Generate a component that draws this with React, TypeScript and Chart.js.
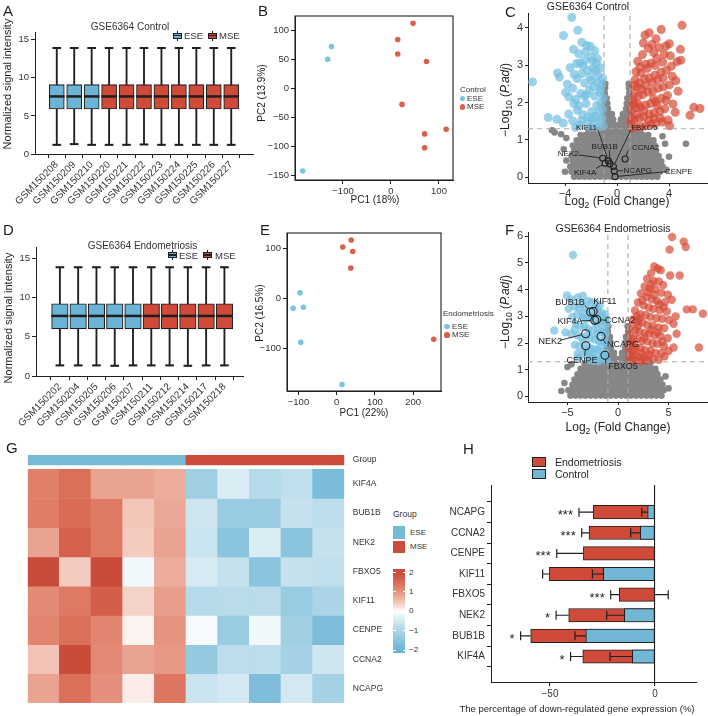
import React, { useEffect, useRef } from 'react';
import { Chart, registerables } from 'chart.js';

Chart.register(...registerables);

const FONT = '"Liberation Sans", Arial, Helvetica, sans-serif';
Chart.defaults.font.family = FONT;
Chart.defaults.color = '#333333';

const INK = '#1f1f1f';
const TICK_TEXT = '#333333';
const ESE_FILL = '#6cb4d5';
const MSE_FILL = '#cf4a39';
const ESE_DOT = '#7cc4e0';
const MSE_DOT = '#da604c';
const VOLCANO_BLUE = 'rgba(118,192,225,0.72)';
const VOLCANO_RED = 'rgba(214,74,54,0.7)';
const VOLCANO_GRAY = '#868686';
const THRESH = '#a8a8a8';
const GROUP_ESE = '#76bbd6';
const GROUP_MSE = '#cc4c3b';
const BAR_RED = '#d04a3a';
const BAR_BLUE = '#72b8d6';

// ---------- A: normalised intensities, GSE6364 control ----------
const controlSamples = ['GSM150208', 'GSM150209', 'GSM150210', 'GSM150220', 'GSM150221', 'GSM150222', 'GSM150223', 'GSM150224', 'GSM150225', 'GSM150226', 'GSM150227'];
const controlPhase = ['ESE', 'ESE', 'ESE', 'MSE', 'MSE', 'MSE', 'MSE', 'MSE', 'MSE', 'MSE', 'MSE'];
const controlMin = [1.2, 1.3, 1.2, 1.2, 1.2, 1.25, 1.2, 1.2, 1.2, 1.2, 1.2];
const controlQ1 = [5.9, 5.9, 5.9, 5.9, 5.9, 5.9, 5.9, 5.9, 5.9, 5.9, 5.9];
const controlMedian = [7.55, 7.55, 7.55, 7.55, 7.55, 7.55, 7.55, 7.55, 7.55, 7.55, 7.55];
const controlQ3 = [9.1, 9.1, 9.1, 9.1, 9.1, 9.1, 9.1, 9.1, 9.1, 9.1, 9.1];
const controlMax = [13.9, 13.9, 13.9, 13.9, 13.9, 13.9, 13.9, 13.9, 13.9, 13.9, 13.9];

// ---------- D: normalised intensities, GSE6364 endometriosis ----------
const endoSamples = ['GSM150202', 'GSM150204', 'GSM150205', 'GSM150206', 'GSM150207', 'GSM150211', 'GSM150212', 'GSM150214', 'GSM150217', 'GSM150218'];
const endoPhase = ['ESE', 'ESE', 'ESE', 'ESE', 'ESE', 'MSE', 'MSE', 'MSE', 'MSE', 'MSE'];
const endoMin = [1.35, 1.35, 1.35, 1.3, 1.35, 1.35, 1.35, 1.3, 1.35, 1.35];
const endoQ1 = [6.0, 6.0, 6.0, 6.0, 6.0, 6.0, 6.0, 6.0, 6.0, 6.0];
const endoMedian = [7.65, 7.65, 7.65, 7.65, 7.65, 7.65, 7.65, 7.65, 7.65, 7.65];
const endoQ3 = [9.2, 9.2, 9.2, 9.2, 9.2, 9.2, 9.2, 9.2, 9.2, 9.2];
const endoMax = [13.85, 13.85, 13.85, 13.85, 13.85, 13.85, 13.85, 13.85, 13.85, 13.85];

// ---------- B / E: principal components ----------
const pcaCtrlEsePC1 = [-124, -132, -184];
const pcaCtrlEsePC2 = [72, 50, -143];
const pcaCtrlMsePC1 = [46, 14, 14, 74, 23, 115, 70, 70];
const pcaCtrlMsePC2 = [112, 84, 59, 46, -28, -71, -79, -103];
const pcaEndoEsePC1 = [-96, -114, -87, -94, 14];
const pcaEndoEsePC2 = [12, -19, -17, -87, -171];
const pcaEndoMsePC1 = [16, 38, 42, 37, 254];
const pcaEndoMsePC2 = [103, 117, 94, 61, -81];

// ---------- C / F: volcano plots (log2 fold change, -log10 adjusted p) ----------
const FC_CUT = 1;
const PADJ_CUT = 1.3;

const cGrayRows: [number, number[]][] = [
  [0.02, [-3.3, -2.9, -2.5, -2.1, -1.7, -1.3, -0.9, -0.5, -0.1, 0.3, 0.7, 1.1, 1.5, 1.9, 2.3, 2.7, 3.1]],
  [0.15, [-3.5, -3.1, -2.7, -2.3, -1.9, -1.5, -1.1, -0.7, -0.3, 0.1, 0.5, 0.9, 1.3, 1.7, 2.1, 2.5, 2.9, 3.3]],
  [0.29, [-3.6, -3.2, -2.8, -2.4, -2.0, -1.6, -1.2, -0.8, -0.4, 0, 0.4, 0.8, 1.2, 1.6, 2.0, 2.4, 2.8, 3.2, 3.5]],
  [0.43, [-3.4, -3.0, -2.6, -2.2, -1.8, -1.4, -1.0, -0.6, -0.2, 0.2, 0.6, 1.0, 1.4, 1.8, 2.2, 2.6, 3.0, 3.4]],
  [0.57, [-3.5, -3.1, -2.7, -2.3, -1.9, -1.5, -1.1, -0.7, -0.3, 0.1, 0.5, 0.9, 1.3, 1.7, 2.1, 2.5, 2.9, 3.2]],
  [0.71, [-3.3, -2.9, -2.5, -2.1, -1.7, -1.3, -0.9, -0.5, -0.1, 0.3, 0.7, 1.1, 1.5, 1.9, 2.3, 2.7, 3.0]],
  [0.85, [-3.4, -3.0, -2.6, -2.2, -1.8, -1.4, -1.0, -0.6, -0.2, 0.2, 0.6, 1.0, 1.4, 1.8, 2.2, 2.6, 2.9]],
  [0.99, [-3.1, -2.7, -2.3, -1.9, -1.5, -1.1, -0.7, -0.3, 0.1, 0.5, 0.9, 1.3, 1.7, 2.1, 2.5, 2.8]],
  [1.13, [-2.8, -2.4, -2.0, -1.6, -1.2, -0.8, -0.4, 0, 0.4, 0.8, 1.2, 1.6, 2.0, 2.4]],
  [1.27, [-2.2, -1.8, -1.4, -1.0, -0.6, -0.2, 0.2, 0.6, 1.0, 1.4, 1.8]],
  [1.41, [-0.95, -0.6, -0.25, 0.15, 0.5, 0.9]],
  [1.55, [-0.95, -0.65, -0.3, 0.3, 0.65, 0.95]],
  [1.69, [-0.95, -0.7, -0.4, 0.45, 0.7, 0.95]],
  [1.83, [-0.95, -0.7, 0.7, 0.95]],
  [1.97, [-0.95, -0.75, 0.75, 0.95]],
  [2.11, [-0.95, -0.8, 0.8, 0.95]],
  [2.25, [-0.95, 0.95]],
  [2.39, [-0.92, 0.92]],
  [2.5, [-0.9, 0.9]],
];
const cGrayLoose = [[-4.8, 1.2], [-5.0, 1.26], [-4.3, 1.15], [-3.9, 1.05], [-4.1, 0.75], [-3.9, 0.45], [3.7, 0.9], [5.3, 0.9], [4.0, 0.55], [3.8, 0.2], [-4.0, 0.15], [3.5, 1.1]];
const cDown = [
  [-3.48, 4.27], [-4.12, 3.79], [-3.02, 3.93], [-2.71, 3.61], [-2.33, 3.52], [-1.71, 3.38], [-2.95, 3.3], [-3.35, 3.42], [-2.02, 3.21], [-2.5, 3.12],
  [-1.58, 3.05], [-1.84, 2.91], [-3.12, 3.04], [-3.61, 2.93], [-2.28, 2.86], [-2.71, 2.77], [-1.43, 2.72], [-1.17, 2.49], [-1.96, 2.59], [-2.49, 2.52],
  [-3.07, 2.64], [-3.41, 2.38], [-4.58, 2.79], [-4.43, 2.68], [-6.5, 2.55], [-1.33, 2.28], [-1.72, 2.17], [-2.14, 2.33], [-2.79, 2.24], [-3.17, 2.08],
  [-3.71, 2.15], [-2.38, 1.97], [-1.56, 1.92], [-1.12, 1.81], [-1.94, 1.76], [-2.63, 1.68], [-3.05, 1.79], [-3.72, 1.69], [-3.42, 1.51], [-2.27, 1.47],
  [-1.73, 1.44], [-1.31, 1.52], [-1.06, 1.37], [-1.48, 1.33], [-2.02, 1.35], [-2.86, 1.39], [-4.13, 1.45], [-4.62, 1.55], [-5.3, 1.6], [-1.24, 1.99],
  [-1.05, 2.12], [-1.11, 2.64], [-1.27, 2.93], [-1.51, 3.17], [-3.95, 2.27], [-3.83, 2.49], [-2.09, 2.69], [-2.61, 2.98], [-1.88, 3.11], [-2.22, 1.61],
  [-1.67, 1.63], [-1.38, 1.75], [-2.51, 2.17], [-2.94, 1.91], [-3.33, 1.97], [-1.83, 2.42], [-2.35, 2.21], [-1.51, 2.53], [-1.27, 2.35], [-2.74, 1.52],
  [-3.2, 1.33], [-1.92, 1.57], [-1.15, 1.58], [-2.42, 3.35], [-3.3, 2.75], [-2.05, 3.5], [-2.85, 3.05], [-1.65, 2.85],
];
const cUp = [
  [5.0, 4.06], [2.15, 3.8], [2.48, 3.86], [4.02, 3.57], [4.88, 3.42], [3.77, 3.51], [3.24, 3.47], [2.83, 3.33], [1.96, 3.28], [4.91, 3.13],
  [3.52, 3.08], [3.06, 3.18], [2.62, 3.05], [2.21, 3.02], [1.77, 2.94], [1.46, 2.82], [4.18, 2.97], [3.81, 2.86], [3.37, 2.81], [2.91, 2.73],
  [2.47, 2.66], [2.12, 2.63], [1.71, 2.52], [1.28, 2.46], [4.52, 2.58], [4.03, 2.47], [3.57, 2.42], [3.16, 2.38], [2.74, 2.31], [2.38, 2.28],
  [1.98, 2.21], [1.62, 2.17], [1.24, 2.08], [3.88, 2.19], [3.42, 2.11], [2.97, 2.02], [2.57, 1.97], [2.19, 1.93], [1.81, 1.88], [1.43, 1.86],
  [1.09, 1.79], [4.31, 1.96], [3.68, 1.83], [3.31, 1.77], [2.86, 1.72], [2.47, 1.69], [2.06, 1.62], [1.72, 1.58], [1.33, 1.54], [1.05, 1.49],
  [5.62, 1.66], [6.38, 1.84], [5.91, 1.87], [3.93, 1.53], [3.48, 1.48], [2.98, 1.44], [2.61, 1.41], [2.18, 1.37], [1.83, 1.35], [1.41, 1.34],
  [1.11, 1.32], [4.04, 1.38], [2.33, 2.91], [1.86, 2.79], [1.19, 2.01], [3.63, 3.29], [4.62, 3.09], [2.69, 2.53], [3.12, 2.61], [1.52, 1.68],
  [3.34, 1.58], [2.03, 3.59], [2.93, 2.99], [1.39, 2.61], [4.48, 1.74], [1.6, 3.1], [2.4, 3.45], [3.0, 3.7], [3.4, 3.95], [2.8, 2.1],
  [2.2, 2.45], [1.9, 2.35], [1.35, 2.25], [1.15, 1.58], [1.65, 1.95], [2.05, 1.78], [2.45, 1.52], [3.1, 1.92], [3.55, 2.65], [4.25, 2.7],
  [4.1, 3.25], [2.7, 3.55], [1.55, 2.42], [1.3, 1.95], [2.85, 1.57], [3.75, 2.05], [4.7, 2.3],
];
const cHighlightGenes = ['KIF11', 'FBXO5', 'BUB1B', 'CCNA2', 'NEK2', 'KIF4A', 'NCAPG', 'CENPE'];
const cHighlightFC = [-0.67, -0.28, -0.54, 0.62, -1.1, -0.92, -0.21, -0.15];
const cHighlightPadj = [0.44, 0.29, 0.36, 0.49, 0.51, 0.38, 0.17, 0.02];
// label anchor and leader-line start for each highlighted gene
const cNoteText = [[-2.35, 1.33], [2.1, 1.33], [-0.95, 0.83], [2.2, 0.8], [-3.75, 0.64], [-2.45, 0.13], [1.6, 0.18], [4.75, 0.15]];
const cNoteElbow = [[-1.45, 1.26], [1.05, 1.26], [-0.6, 0.72], [0.85, 0.72], [-2.95, 0.6], [-1.6, 0.24], [0.45, 0.18], [3.7, 0.15]];

const fGrayRows: [number, number[]][] = [
  [0.03, [-4.7, -4.2, -3.7, -3.2, -2.7, -2.2, -1.7, -1.2, -0.7, -0.2, 0.3, 0.8, 1.3, 1.8, 2.3, 2.8, 3.3, 3.8, 4.3]],
  [0.23, [-4.9, -4.4, -3.9, -3.4, -2.9, -2.4, -1.9, -1.4, -0.9, -0.4, 0.1, 0.6, 1.1, 1.6, 2.1, 2.6, 3.1, 3.6, 4.1, 4.5]],
  [0.43, [-4.5, -4.0, -3.5, -3.0, -2.5, -2.0, -1.5, -1.0, -0.5, 0, 0.5, 1.0, 1.5, 2.0, 2.5, 3.0, 3.5, 4.0, 4.4]],
  [0.63, [-4.3, -3.8, -3.3, -2.8, -2.3, -1.8, -1.3, -0.8, -0.3, 0.2, 0.7, 1.2, 1.7, 2.2, 2.7, 3.2, 3.7, 4.2]],
  [0.83, [-4.0, -3.5, -3.0, -2.5, -2.0, -1.5, -1.0, -0.5, 0, 0.5, 1.0, 1.5, 2.0, 2.5, 3.0, 3.5, 3.9]],
  [1.03, [-3.7, -3.2, -2.7, -2.2, -1.7, -1.2, -0.7, -0.2, 0.3, 0.8, 1.3, 1.8, 2.3, 2.8, 3.3, 3.7]],
  [1.23, [-3.3, -2.8, -2.3, -1.8, -1.3, -0.8, -0.3, 0.3, 0.8, 1.3, 1.8, 2.3, 2.8, 3.2]],
  [1.43, [-1.1, -0.7, -0.3, 0.3, 0.7, 1.1]],
  [1.63, [-1.1, -0.75, -0.4, 0.4, 0.75, 1.1]],
  [1.83, [-1.1, -0.7, 0.7, 1.1]],
  [2.03, [-1.05, -0.75, 0.75, 1.05]],
  [2.23, [-1.0, -0.8, 0.8, 1.0]],
  [2.43, [-1.0, 1.0]],
  [2.63, [-0.95, 0.95]],
];
const fGrayLoose = [[3.8, 0.85], [-5.3, 0.5], [5.0, 0.3], [-5.0, 1.1], [-5.6, 0.2], [4.7, 0.75], [-4.6, 1.2]];
const fDown = [
  [-4.45, 5.3], [-5.05, 3.78], [-4.62, 3.63], [-3.97, 3.71], [-3.48, 3.77], [-2.96, 3.58], [-2.63, 3.52], [-2.17, 3.49], [-1.82, 3.41], [-4.27, 3.38],
  [-3.83, 3.31], [-3.26, 3.34], [-2.88, 3.22], [-1.98, 3.24], [-1.61, 3.12], [-1.27, 3.07], [-4.52, 2.98], [-4.03, 3.07], [-3.46, 2.97], [-3.08, 2.92],
  [-2.71, 2.93], [-1.83, 2.82], [-1.39, 2.83], [-1.13, 2.68], [-4.18, 2.72], [-3.72, 2.61], [-3.31, 2.64], [-2.92, 2.52], [-2.47, 2.47], [-1.97, 2.53],
  [-1.58, 2.42], [-1.21, 2.38], [-6.3, 2.47], [-5.2, 2.4], [-4.63, 2.33], [-3.97, 2.28], [-3.58, 2.21], [-2.73, 2.18], [-2.28, 2.13], [-1.87, 2.07],
  [-1.42, 2.03], [-1.12, 1.98], [-4.27, 1.93], [-3.81, 1.87], [-2.83, 1.82], [-2.37, 1.78], [-2.02, 1.73], [-1.63, 1.68], [-1.18, 1.63], [-3.47, 1.58],
  [-3.02, 1.52], [-2.58, 1.48], [-2.19, 1.43], [-1.82, 1.41], [-1.38, 1.39], [-1.08, 1.34], [-3.92, 1.44], [-2.88, 1.35], [-2.42, 1.33], [-1.93, 1.32],
  [-3.38, 2.02], [-2.22, 2.74], [-3.62, 3.48], [-4.88, 3.28], [-1.52, 2.61], [-2.47, 3.02], [-1.3, 2.25], [-1.7, 1.9], [-2.5, 1.65], [-3.2, 1.75],
  [-2.1, 2.35], [-3.0, 2.3], [-1.45, 1.55], [-2.8, 1.6], [-4.0, 1.6], [-2.3, 3.3], [-1.7, 3.0], [-3.5, 3.1], [-1.15, 2.9], [-4.3, 2.5],
];
const fUp = [
  [5.35, 5.97], [6.5, 5.8], [6.7, 5.6], [5.1, 5.5], [3.58, 4.87], [3.93, 4.79], [4.22, 4.73], [3.27, 4.62], [5.15, 4.53], [6.1, 4.53],
  [2.87, 4.41], [3.52, 4.33], [4.04, 4.31], [4.47, 4.17], [2.63, 4.12], [3.14, 4.04], [3.72, 4.02], [4.28, 3.88], [4.93, 3.81], [2.27, 3.86],
  [2.81, 3.72], [3.34, 3.63], [3.87, 3.58], [4.64, 3.53], [5.32, 3.62], [1.97, 3.52], [2.53, 3.41], [3.04, 3.33], [3.48, 3.28], [4.12, 3.23],
  [4.83, 3.18], [6.8, 3.26], [7.4, 3.26], [8.4, 3.1], [1.68, 3.22], [2.22, 3.08], [2.73, 3.04], [3.21, 2.98], [3.82, 2.93], [4.38, 2.91],
  [5.03, 2.86], [1.47, 2.88], [1.92, 2.79], [2.41, 2.77], [2.88, 2.68], [3.43, 2.66], [4.02, 2.58], [4.58, 2.56], [5.5, 2.72], [1.28, 2.61],
  [1.73, 2.48], [2.07, 2.43], [2.63, 2.38], [3.08, 2.36], [3.61, 2.28], [4.19, 2.27], [4.92, 2.18], [5.8, 2.35], [1.18, 2.31], [1.52, 2.18],
  [1.93, 2.16], [2.38, 2.08], [2.91, 2.06], [3.42, 1.98], [3.88, 1.97], [4.53, 1.88], [5.5, 1.83], [8.0, 1.83], [1.11, 1.98], [1.42, 1.91],
  [1.78, 1.84], [2.24, 1.81], [2.68, 1.73], [3.23, 1.72], [3.71, 1.63], [4.28, 1.62], [1.04, 1.71], [1.32, 1.58], [1.68, 1.56], [2.12, 1.48],
  [2.53, 1.46], [2.97, 1.41], [3.52, 1.39], [4.03, 1.37], [1.12, 1.41], [1.48, 1.35], [1.88, 1.34], [2.31, 1.32], [2.78, 1.33], [4.6, 1.5],
  [5.0, 1.7], [3.0, 3.9], [3.6, 3.8], [2.1, 2.9], [4.5, 3.35], [5.7, 3.0], [2.4, 3.6], [1.85, 3.0], [2.6, 2.2], [3.3, 2.5],
  [1.35, 2.05], [1.6, 1.7], [2.0, 2.65], [3.9, 2.4], [4.4, 2.05], [3.1, 1.55], [2.35, 1.62], [1.25, 1.5], [4.05, 3.45], [3.3, 4.2],
];
const fHighlightGenes = ['BUB1B', 'KIF11', 'KIF4A', 'CCNA2', 'NEK2', 'NCAPG', 'CENPE', 'FBXO5'];
const fHighlightFC = [-2.7, -2.45, -2.3, -2.1, -3.2, -1.68, -3.18, -1.29];
const fHighlightPadj = [3.16, 3.18, 2.85, 2.88, 2.35, 2.25, 1.9, 1.54];
const fNoteText = [[-4.75, 3.51], [-1.29, 3.57], [-4.75, 2.82], [0.2, 2.85], [-6.7, 2.06], [0.5, 1.94], [-3.56, 1.35], [0.5, 1.12]];
const fNoteElbow = [[-3.27, 3.41], [-2.05, 3.45], [-3.7, 2.83], [-1.12, 2.85], [-5.74, 2.1], [-1.19, 1.97], [-3.3, 1.52], [-1.19, 1.22]];

// ---------- G: z-scored expression heatmap ----------
const heatSamples = ['GSM150202', 'GSM150204', 'GSM150205', 'GSM150206', 'GSM150207', 'GSM150211', 'GSM150212', 'GSM150214', 'GSM150217', 'GSM150218'];
const heatPhase = ['ESE', 'ESE', 'ESE', 'ESE', 'ESE', 'MSE', 'MSE', 'MSE', 'MSE', 'MSE'];
const heatGenes = ['KIF4A', 'BUB1B', 'NEK2', 'FBXO5', 'KIF11', 'CENPE', 'CCNA2', 'NCAPG'];
const zKIF4A = [1.2, 1.45, 0.85, 0.85, 0.75, -1.2, -0.4, -0.9, -0.75, -1.75];
const zBUB1B = [1.25, 1.5, 1.3, 0.45, 0.8, -0.55, -1.3, -1.3, -0.7, -0.8];
const zNEK2 = [0.85, 1.65, 1.3, 0.4, 0.85, -0.6, -1.5, -0.4, -1.5, -0.7];
const zFBXO5 = [2.0, 0.4, 2.0, -0.15, 0.75, -0.45, -0.7, -1.5, -0.7, -0.75];
const zKIF11 = [1.1, 1.3, 1.7, 0.35, 0.9, -0.9, -0.85, -0.85, -1.3, -1.05];
const zCENPE = [1.15, 1.45, 1.15, 0.1, 1.0, -0.1, -1.3, -0.15, -1.2, -1.7];
const zCCNA2 = [0.5, 2.0, 1.1, 0.85, 0.95, -1.35, -0.8, -0.8, -1.15, -0.55];
const zNCAPG = [0.85, 1.45, 1.05, 0.15, 1.35, -0.6, -0.5, -1.7, -0.5, -1.15];
const heatRows = [zKIF4A, zBUB1B, zNEK2, zFBXO5, zKIF11, zCENPE, zCCNA2, zNCAPG];
const heatLegendTicks = [2, 1, 0, -1, -2];

// ---------- H: share of down-regulated expression ----------
const hGenes = ['NCAPG', 'CCNA2', 'CENPE', 'KIF11', 'FBXO5', 'NEK2', 'BUB1B', 'KIF4A'];
const hEndo = [-29.4, -31.4, -34.1, -50.3, -17.0, -41.1, -59.2, -34.4];
const hEndoErr = [6.8, 3.5, 12.7, 3.2, 4.1, 6.0, 4.8, 5.8];
const hCtrl = [-3.5, -7.0, 0, -24.6, 0, -14.6, -32.9, -10.8];
const hCtrlErr = [2.8, 4.6, 0, 5.2, 6.3, 8.4, 5.2, 10.6];
const hStars = ['***', '***', '***', '', '***', '*', '*', '*'];

// ---------- colour scale for z-scores ----------
const heatStops: [number, number[]][] = [
  [-2, [108, 180, 212]], [-1.6, [130, 192, 220]], [-1.2, [160, 207, 228]], [-0.8, [188, 221, 235]], [-0.4, [218, 236, 244]],
  [0, [255, 255, 255]],
  [0.4, [243, 203, 191]], [0.8, [235, 168, 150]], [1.2, [224, 128, 106]], [1.6, [214, 100, 80]], [2, [201, 75, 57]],
];
function heatColor(v: number) {
  const c = Math.max(-2, Math.min(2, v));
  for (let i = 1; i < heatStops.length; i++) {
    const [v1, c1] = heatStops[i];
    const [v0, c0] = heatStops[i - 1];
    if (c <= v1) {
      const t = (c - v0) / (v1 - v0);
      const ch = c0.map((a, k) => Math.round(a + (c1[k] - a) * t));
      return `rgb(${ch[0]},${ch[1]},${ch[2]})`;
    }
  }
  return 'rgb(201,75,57)';
}

const minus = (v: number) => (v < 0 ? '\u2212' + Math.abs(v) : String(v));

// ---------- chart helpers ----------
function baseOptions(pad: { l: number; r: number; t: number; b: number }, scales: any, extra: any = {}) {
  return {
    responsive: false,
    animation: false,
    events: [],
    layout: { autoPadding: false, padding: { left: pad.l, right: pad.r, top: pad.t, bottom: pad.b } },
    plugins: { legend: { display: false }, tooltip: { enabled: false } },
    scales,
    ...extra,
  };
}

function lin(o: any) {
  const horiz = o.pos === 'bottom' || o.pos === 'top';
  const line = o.line !== false;
  return {
    type: 'linear',
    position: o.pos,
    min: o.min,
    max: o.max,
    reverse: !!o.reverse,
    afterBuildTicks: (s: any) => {
      s.ticks = o.ticks.map((v: number) => ({ value: v }));
    },
    afterFit: (s: any) => {
      if (horiz) s.height = o.size;
      else s.width = o.size;
      // plot area is fixed by the layout padding alone
      s.paddingTop = 0;
      s.paddingBottom = 0;
      s.paddingLeft = 0;
      s.paddingRight = 0;
    },
    border: { display: line, color: INK, width: 1 },
    grid: {
      display: line,
      drawOnChartArea: false,
      drawTicks: true,
      tickLength: o.tickLen ?? 4,
      color: INK,
      lineWidth: 1,
      ...(o.grid || {}),
    },
    ticks: {
      autoSkip: false,
      color: TICK_TEXT,
      font: { size: o.font ?? 10 },
      padding: o.pad ?? 2,
      minRotation: o.rot ?? 0,
      maxRotation: o.rot ?? 0,
      callback: (v: number, i: number) => (o.labels ? o.labels[i] : minus(v)),
    },
  };
}

const framePlugin = {
  id: 'panelFrame',
  afterDraw(chart: any) {
    const { ctx, chartArea } = chart;
    ctx.save();
    ctx.strokeStyle = INK;
    ctx.lineWidth = 1.1;
    ctx.strokeRect(chartArea.left, chartArea.top, chartArea.right - chartArea.left, chartArea.bottom - chartArea.top);
    ctx.restore();
  },
};

function boxChart(samples: string[], phase: string[], mins: number[], q1: number[], med: number[], q3: number[], maxs: number[], g: any) {
  const fills = phase.map((p) => (p === 'ESE' ? ESE_FILL : MSE_FILL));
  const at = (f: (i: number) => number[]) => samples.map((_, i) => ({ x: i, y: f(i) }));
  const common = { grouped: false, borderSkipped: false };
  return {
    type: 'bar',
    data: {
      datasets: [
        { ...common, data: at((i) => [med[i] - 0.12, med[i] + 0.12]), backgroundColor: INK, barThickness: g.box },
        { ...common, data: at((i) => [q1[i], q3[i]]), backgroundColor: fills, borderColor: INK, borderWidth: 1.1, barThickness: g.box },
        { ...common, data: at((i) => [maxs[i] - 0.09, maxs[i] + 0.09]), backgroundColor: INK, barThickness: g.cap },
        { ...common, data: at((i) => [mins[i] - 0.09, mins[i] + 0.09]), backgroundColor: INK, barThickness: g.cap },
        { ...common, data: at((i) => [mins[i], maxs[i]]), backgroundColor: INK, barThickness: 1.2 },
      ],
    },
    options: baseOptions(g.pad, {
      x: lin({ pos: 'bottom', min: g.xmin, max: g.xmax, ticks: samples.map((_, i) => i), labels: samples, size: g.xh, font: 10, rot: 45, pad: 1 }),
      y: lin({ pos: 'left', min: 0, max: g.ymax, ticks: [0, 5, 10, 15], size: g.yw, font: 9.5, pad: 2 }),
    }),
  };
}

function pcaChart(o: any) {
  return {
    type: 'scatter',
    data: {
      datasets: [
        { data: o.eseX.map((x: number, i: number) => ({ x, y: o.eseY[i] })), pointRadius: 2.8, backgroundColor: ESE_DOT, borderWidth: 0 },
        { data: o.mseX.map((x: number, i: number) => ({ x, y: o.mseY[i] })), pointRadius: 2.8, backgroundColor: MSE_DOT, borderWidth: 0 },
      ],
    },
    options: baseOptions(o.pad, {
      x: lin({ pos: 'bottom', min: o.xmin, max: o.xmax, ticks: o.xticks, size: o.xh, font: 9.5, pad: 2 }),
      y: lin({ pos: 'left', min: o.ymin, max: o.ymax, ticks: o.yticks, size: o.yw, font: 9.5, pad: 2 }),
    }),
    plugins: [framePlugin],
  };
}

function notePlugin(genes: string[], fc: number[], padj: number[], text: number[][], elbow: number[][], ring: number, size: number) {
  return {
    id: 'geneNotes',
    afterDatasetsDraw(chart: any) {
      const { ctx } = chart;
      const xs = chart.scales.x;
      const ys = chart.scales.y;
      ctx.save();
      ctx.strokeStyle = INK;
      ctx.lineWidth = 0.9;
      genes.forEach((_, i) => {
        const cx = xs.getPixelForValue(fc[i]);
        const cy = ys.getPixelForValue(padj[i]);
        const lx = xs.getPixelForValue(elbow[i][0]);
        const ly = ys.getPixelForValue(elbow[i][1]);
        const d = Math.hypot(lx - cx, ly - cy) || 1;
        ctx.beginPath();
        ctx.moveTo(lx, ly);
        ctx.lineTo(cx + ((lx - cx) / d) * ring, cy + ((ly - cy) / d) * ring);
        ctx.stroke();
      });
      ctx.fillStyle = '#1a1a1a';
      ctx.font = `${size}px ${FONT}`;
      ctx.textAlign = 'center';
      ctx.textBaseline = 'middle';
      genes.forEach((g, i) => ctx.fillText(g, xs.getPixelForValue(text[i][0]), ys.getPixelForValue(text[i][1])));
      ctx.restore();
    },
  };
}

function volcanoChart(o: any) {
  const gray = o.grayRows
    .flatMap((r: any) => r[1].map((x: number) => ({ x, y: r[0] })))
    .concat(o.grayLoose.map((p: number[]) => ({ x: p[0], y: p[1] })));
  const pts = (a: number[][]) => a.map((p) => ({ x: p[0], y: p[1] }));
  const rule = (a: any[]) => ({ type: 'line', data: a, borderColor: THRESH, borderWidth: 1.1, borderDash: [5, 4], pointRadius: 0, fill: false, order: 1 });
  return {
    type: 'scatter',
    data: {
      datasets: [
        {
          data: o.fc.map((x: number, i: number) => ({ x, y: o.padj[i] })),
          pointRadius: o.ring,
          backgroundColor: 'rgba(0,0,0,0)',
          borderColor: INK,
          borderWidth: 1.1,
          order: 0,
        },
        rule([{ x: -FC_CUT, y: o.ymin }, { x: -FC_CUT, y: o.ymax }]),
        rule([{ x: FC_CUT, y: o.ymin }, { x: FC_CUT, y: o.ymax }]),
        rule([{ x: o.xmin, y: PADJ_CUT }, { x: o.xmax, y: PADJ_CUT }]),
        { data: pts(o.up), pointRadius: o.dot, backgroundColor: VOLCANO_RED, borderWidth: 0, order: 2 },
        { data: pts(o.down), pointRadius: o.dot, backgroundColor: VOLCANO_BLUE, borderWidth: 0, order: 2 },
        { data: gray, pointRadius: 3.3, backgroundColor: VOLCANO_GRAY, borderWidth: 0, order: 3 },
      ],
    },
    options: baseOptions(o.pad, {
      x: lin({ pos: 'bottom', min: o.xmin, max: o.xmax, ticks: o.xticks, size: o.xh, font: 11, pad: 1, tickLen: 3 }),
      y: lin({ pos: 'left', min: o.ymin, max: o.ymax, ticks: o.yticks, size: 58, font: 11, pad: 2, tickLen: 3 }),
    }),
    plugins: [notePlugin(o.genes, o.fc, o.padj, o.noteText, o.noteElbow, o.ring, o.noteSize)],
  };
}

function heatChart() {
  const cells = heatRows.map((vals, g) => ({
    data: vals.map(() => [7 - g, 8 - g]),
    backgroundColor: vals.map(heatColor),
  }));
  cells.push({
    data: heatPhase.map(() => [8.15, 8.49]),
    backgroundColor: heatPhase.map((p) => (p === 'ESE' ? GROUP_ESE : GROUP_MSE)),
  });
  const tickVals = heatGenes.map((_, g) => g + 0.5).concat([8.32]);
  const tickLabels = heatGenes.slice().reverse().concat(['Group']);
  return {
    type: 'bar',
    data: {
      labels: heatSamples,
      datasets: cells.map((d) => ({ ...d, grouped: false, barPercentage: 1, categoryPercentage: 1, borderWidth: 0 })),
    },
    options: baseOptions({ l: 27.7, r: 0, t: 5, b: 5 }, {
      x: { type: 'category', display: false, offset: true },
      y: lin({ pos: 'right', min: 0, max: 8.49, ticks: tickVals, labels: tickLabels, size: 47.7, font: 8.5, pad: 4.5, line: false }),
    }),
  };
}

const hErrorPlugin = {
  id: 'hErrors',
  afterDatasetsDraw(chart: any) {
    const { ctx } = chart;
    const x = chart.scales.x;
    const y = chart.scales.y;
    ctx.save();
    ctx.strokeStyle = INK;
    ctx.lineWidth = 1.2;
    const whisker = (v: number, e: number, i: number) => {
      if (!e) return;
      const end = v < 0 ? v - e : v + e;
      const p0 = x.getPixelForValue(v);
      const p1 = x.getPixelForValue(end);
      const py = y.getPixelForValue(i);
      ctx.beginPath();
      ctx.moveTo(p0, py);
      ctx.lineTo(p1, py);
      ctx.moveTo(p1, py - 4.5);
      ctx.lineTo(p1, py + 4.5);
      ctx.stroke();
    };
    hEndo.forEach((v, i) => whisker(v, hEndoErr[i], i));
    hCtrl.forEach((v, i) => whisker(v, hCtrlErr[i], i));
    ctx.fillStyle = INK;
    ctx.font = `13px ${FONT}`;
    ctx.textAlign = 'right';
    ctx.textBaseline = 'middle';
    hStars.forEach((s, i) => {
      if (!s) return;
      ctx.fillText(s, x.getPixelForValue(hEndo[i] - hEndoErr[i]) - 6, y.getPixelForValue(i) + 3.5);
    });
    ctx.restore();
  },
};

function hChart() {
  const bar = { grouped: false, borderColor: INK, borderWidth: 1, borderSkipped: false, barThickness: 13.5 };
  return {
    type: 'bar',
    data: {
      datasets: [
        { ...bar, data: hCtrl.map((v, i) => ({ x: v, y: i })), backgroundColor: BAR_BLUE },
        { ...bar, data: hEndo.map((v, i) => ({ x: v, y: i })), backgroundColor: BAR_RED },
      ],
    },
    options: baseOptions(
      { l: 0, r: 11, t: 5, b: 0 },
      {
        x: lin({
          pos: 'bottom', min: -78.1, max: 20, ticks: [-50, 0], size: 34, font: 10, pad: 2,
          grid: {
            drawOnChartArea: true,
            color: (c: any) => (c.tick && c.tick.value === 0 ? INK : 'rgba(0,0,0,0)'),
            tickColor: INK,
            lineWidth: 1.1,
          },
        }),
        y: lin({ pos: 'left', min: -0.72, max: 7.64, reverse: true, ticks: hGenes.map((_, i) => i), labels: hGenes, size: 51, font: 10, pad: 2 }),
      },
      { indexAxis: 'y' },
    ),
    plugins: [hErrorPlugin],
  };
}

// ---------- React pieces ----------
function ChartBox({ left, top, width, height, make }: any) {
  const ref = useRef<HTMLCanvasElement | null>(null);
  useEffect(() => {
    const chart = new Chart(ref.current as HTMLCanvasElement, make());
    return () => chart.destroy();
  }, []);
  return <canvas ref={ref} width={width} height={height} style={{ position: 'absolute', left, top, width, height }} />;
}

function Txt({ x, y, size, children, align = 'left', rotate = 0, color = '#1f1f1f' }: any) {
  const tx = align === 'center' ? '-50%' : align === 'right' ? '-100%' : '0%';
  const transform = rotate ? `translate(-50%, -50%) rotate(${rotate}deg)` : `translate(${tx}, -50%)`;
  return (
    <div style={{ position: 'absolute', left: x, top: y, fontSize: size, lineHeight: 1, whiteSpace: 'nowrap', color, fontFamily: FONT, transform }}>
      {children}
    </div>
  );
}

const Sub = ({ children }: any) => (
  <span style={{ fontSize: '0.72em', position: 'relative', top: '0.32em' }}>{children}</span>
);

function BoxKey({ x, y, fill }: any) {
  return (
    <div style={{ position: 'absolute', left: x, top: y - 5, width: 9, height: 10 }}>
      <div style={{ position: 'absolute', left: 4, top: 0, width: 1, height: 10, background: INK }} />
      <div style={{ position: 'absolute', left: 0, top: 2, width: 7, height: 4, background: fill, border: `1px solid ${INK}` }} />
      <div style={{ position: 'absolute', left: 0, top: 4.4, width: 9, height: 1.3, background: INK }} />
    </div>
  );
}

function Dot({ x, y, r, color }: any) {
  return <div style={{ position: 'absolute', left: x - r, top: y - r, width: 2 * r, height: 2 * r, borderRadius: '50%', background: color }} />;
}

function Swatch({ x, y, w, h, color, border }: any) {
  return (
    <div
      style={{ position: 'absolute', left: x, top: y, width: w, height: h, background: color, border: border ? `1px solid ${INK}` : 'none', boxSizing: 'border-box' }}
    />
  );
}

const BAR_TOP = 569;
const BAR_H = 84;
const barY = (v: number) => BAR_TOP + ((2.18 - v) / 4.32) * BAR_H;
const gradient = `linear-gradient(to bottom, ${heatStops
  .slice()
  .reverse()
  .map(([v, c]) => `rgb(${c[0]},${c[1]},${c[2]}) ${(((barY(v) - BAR_TOP) / BAR_H) * 100).toFixed(1)}%`)
  .join(', ')})`;

export default function App() {
  return (
    <div style={{ position: 'absolute', left: 0, top: 0, width: 708, height: 716, background: '#ffffff', overflow: 'hidden', fontFamily: FONT }}>
      {/* A */}
      <ChartBox left={0} top={0} width={256} height={222}
        make={() => boxChart(controlSamples, controlPhase, controlMin, controlQ1, controlMedian, controlQ3, controlMax,
          { box: 15, cap: 8, pad: { l: 0, r: 3, t: 32, b: 0 }, xmin: -0.68, xmax: 10.68, xh: 68, yw: 35, ymax: 16 })} />
      {/* D */}
      <ChartBox left={0} top={232} width={256} height={206}
        make={() => boxChart(endoSamples, endoPhase, endoMin, endoQ1, endoMedian, endoQ3, endoMax,
          { box: 16.5, cap: 8, pad: { l: 0, r: 13, t: 15, b: 0 }, xmin: -0.74, xmax: 9.45, xh: 62, yw: 36, ymax: 16.43 })} />
      {/* B */}
      <ChartBox left={250} top={0} width={210} height={215}
        make={() => pcaChart({ eseX: pcaCtrlEsePC1, eseY: pcaCtrlEsePC2, mseX: pcaCtrlMsePC1, mseY: pcaCtrlMsePC2,
          pad: { l: 0, r: 7, t: 16, b: 0 }, xmin: -200, xmax: 129.2, ymin: -158.6, ymax: 124.7,
          xticks: [-100, 0, 100], yticks: [-150, -100, -50, 0, 50, 100], xh: 35, yw: 45 })} />
      {/* E */}
      <ChartBox left={240} top={222} width={210} height={190}
        make={() => pcaChart({ eseX: pcaEndoEsePC1, eseY: pcaEndoEsePC2, mseX: pcaEndoMsePC1, mseY: pcaEndoMsePC2,
          pad: { l: 0, r: 9, t: 11, b: 0 }, xmin: -130, xmax: 273, ymin: -184, ymax: 131,
          xticks: [-100, 0, 100, 200], yticks: [-100, 0, 100], xh: 21, yw: 47 })} />
      {/* C */}
      <ChartBox left={470} top={0} width={238} height={200}
        make={() => volcanoChart({ grayRows: cGrayRows, grayLoose: cGrayLoose, up: cUp, down: cDown,
          genes: cHighlightGenes, fc: cHighlightFC, padj: cHighlightPadj, noteText: cNoteText, noteElbow: cNoteElbow,
          ring: 3, dot: 4.5, noteSize: 8, pad: { l: 0, r: 0, t: 13, b: 0 },
          xmin: -6.85, xmax: 7.0, ymin: -0.15, ymax: 4.39, xticks: [-4, 0, 4], yticks: [0, 1, 2, 3, 4], xh: 17 })} />
      {/* F */}
      <ChartBox left={470} top={222} width={238} height={200}
        make={() => volcanoChart({ grayRows: fGrayRows, grayLoose: fGrayLoose, up: fUp, down: fDown,
          genes: fHighlightGenes, fc: fHighlightFC, padj: fHighlightPadj, noteText: fNoteText, noteElbow: fNoteElbow,
          ring: 4, dot: 4.2, noteSize: 9, pad: { l: 0, r: 0, t: 10, b: 0 },
          xmin: -8.9, xmax: 8.9, ymin: -0.21, ymax: 6.16, xticks: [-5, 0, 5], yticks: [0, 1, 2, 3, 4, 5, 6], xh: 20 })} />
      {/* G */}
      <ChartBox left={0} top={450} width={392} height={258} make={heatChart} />
      {/* H */}
      <ChartBox left={440} top={480} width={268} height={236} make={hChart} />

      {/* panel letters */}
      <Txt x={3} y={10} size={15}>A</Txt>
      <Txt x={258} y={10} size={15}>B</Txt>
      <Txt x={505} y={11} size={15}>C</Txt>
      <Txt x={3} y={229} size={15}>D</Txt>
      <Txt x={260} y={229} size={15}>E</Txt>
      <Txt x={505} y={229} size={15}>F</Txt>
      <Txt x={6} y={447} size={15}>G</Txt>
      <Txt x={463} y={448} size={15}>H</Txt>

      {/* A labels */}
      <Txt x={130} y={27} size={10} align="center" color="#333">GSE6364 Control</Txt>
      <BoxKey x={173} y={35.5} fill={ESE_FILL} />
      <Txt x={184} y={36} size={9.5} color="#333">ESE</Txt>
      <BoxKey x={207.5} y={35.5} fill={MSE_FILL} />
      <Txt x={219} y={36} size={9.5} color="#333">MSE</Txt>
      <Txt x={6.5} y={84} size={11} rotate={-90}>Normalized signal intensity</Txt>

      {/* D labels */}
      <Txt x={142.5} y={246} size={10} align="center" color="#333">GSE6364 Endometriosis</Txt>
      <BoxKey x={168} y={255} fill={ESE_FILL} />
      <Txt x={179} y={255.5} size={9.5} color="#333">ESE</Txt>
      <BoxKey x={203.3} y={255} fill={MSE_FILL} />
      <Txt x={215} y={255.5} size={9.5} color="#333">MSE</Txt>
      <Txt x={8} y={318} size={11} rotate={-90}>Normalized signal intensity</Txt>

      {/* B labels */}
      <Txt x={375} y={200} size={10} align="center">PC1 (18%)</Txt>
      <Txt x={262} y={93} size={10} rotate={-90}>PC2 (13.9%)</Txt>
      <Txt x={460} y={90} size={8} color="#333">Control</Txt>
      <Dot x={462.5} y={98.5} r={2.6} color={ESE_DOT} />
      <Txt x={467} y={98.5} size={8} color="#333">ESE</Txt>
      <Dot x={462.5} y={107} r={2.6} color={MSE_DOT} />
      <Txt x={467} y={107} size={8} color="#333">MSE</Txt>

      {/* E labels */}
      <Txt x={364} y={413} size={10} align="center">PC1 (22%)</Txt>
      <Txt x={260} y={313} size={10} rotate={-90}>PC2 (16.5%)</Txt>
      <Txt x={443} y={314} size={8} color="#333">Endometriosis</Txt>
      <Dot x={447} y={326.5} r={2.6} color={ESE_DOT} />
      <Txt x={452} y={326.5} size={8} color="#333">ESE</Txt>
      <Dot x={447} y={335} r={2.6} color={MSE_DOT} />
      <Txt x={452} y={335} size={8} color="#333">MSE</Txt>

      {/* C labels */}
      <Txt x={588} y={6} size={10.5} align="center">GSE6364 Control</Txt>
      <Txt x={617} y={201} size={12} align="center">Log<Sub>2</Sub> (Fold Change)</Txt>
      <Txt x={505} y={100} size={12} rotate={-90}>{'\u2212'}Log<Sub>10</Sub> (<i>P.adj</i>)</Txt>

      {/* F labels */}
      <Txt x={613} y={228} size={10.5} align="center">GSE6364 Endometriosis</Txt>
      <Txt x={618} y={427} size={12} align="center">Log<Sub>2</Sub> (Fold Change)</Txt>
      <Txt x={505} y={312} size={12} rotate={-90}>{'\u2212'}Log<Sub>10</Sub> (<i>P.adj</i>)</Txt>

      {/* G legend */}
      <Txt x={393} y={514} size={8.5} color="#333">Group</Txt>
      <Swatch x={393} y={526} w={12} h={13} color={GROUP_ESE} />
      <Txt x={410} y={532.5} size={8} color="#333">ESE</Txt>
      <Swatch x={393} y={541} w={12} h={12} color={GROUP_MSE} />
      <Txt x={410} y={547} size={8} color="#333">MSE</Txt>
      <div style={{ position: 'absolute', left: 393, top: BAR_TOP, width: 12, height: BAR_H, background: gradient }} />
      {heatLegendTicks.map((v) => (
        <React.Fragment key={v}>
          <div style={{ position: 'absolute', left: 393, top: barY(v) - 0.5, width: 2.5, height: 1, background: '#fff' }} />
          <div style={{ position: 'absolute', left: 402.5, top: barY(v) - 0.5, width: 2.5, height: 1, background: '#fff' }} />
          <Txt x={409} y={barY(v)} size={8} color="#333">{v < 0 ? '\u2212' + Math.abs(v) : String(v)}</Txt>
        </React.Fragment>
      ))}

      {/* H legend & axis title */}
      <Swatch x={532} y={457} w={14} h={9.5} color={BAR_RED} border />
      <Txt x={555} y={461.5} size={10.5}>Endometriosis</Txt>
      <Swatch x={532} y={469} w={14} h={9.5} color={BAR_BLUE} border />
      <Txt x={555} y={474} size={10.5}>Control</Txt>
      <Txt x={577} y={709} size={9.5} align="center">The percentage of down-regulated gene expression (%)</Txt>
    </div>
  );
}
